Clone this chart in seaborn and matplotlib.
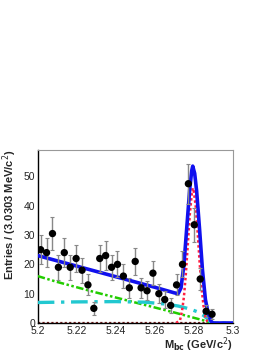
import numpy as np
import matplotlib
matplotlib.use("Agg")
import matplotlib.pyplot as plt
import matplotlib.transforms as mtransforms
import seaborn as sns
from matplotlib.ticker import MultipleLocator

# === data ===
bin_width = 0.0030303
bin_left = 5.2
counts = [25, 24, 30.5, 19, 24, 19, 22, 18, 13, 5, 22, 23, 19, 20, 16,
          12, 21, 12, 11, 17, 10, 8, 6, 13, 20, 47.5, 33.5, 15, 4, 3]

# fit components (x, y)
total_x = [5.200, 5.210, 5.220, 5.230, 5.240, 5.250, 5.260, 5.270, 5.272, 5.2735,
           5.275, 5.2765, 5.278, 5.279, 5.2795, 5.2805, 5.2815, 5.283, 5.2845,
           5.286, 5.2875, 5.289, 5.290, 5.300]
total_y = [23.0, 21.2, 19.4, 17.6, 15.8, 14.0, 12.2, 10.3, 10.0, 12.0,
           20.0, 33.0, 46.0, 52.0, 53.5, 51.0, 45.0, 32.0, 18.0,
           8.0, 3.0, 0.5, 0.0, 0.0]

signal_x = [5.271, 5.273, 5.274, 5.275, 5.276, 5.277, 5.278, 5.279, 5.2795, 5.280,
            5.281, 5.282, 5.283, 5.284, 5.285, 5.286, 5.287, 5.288]
signal_y = [0, 1, 4, 9, 17, 27, 37, 44, 46, 45, 40, 31, 21, 12, 6, 2, 0.5, 0]

cont_x = [5.200, 5.210, 5.220, 5.230, 5.240, 5.250, 5.260, 5.270, 5.280, 5.285, 5.289, 5.300]
cont_y = [16, 14, 12.2, 10.4, 8.7, 7, 5.3, 3.6, 1.8, 0.9, 0, 0]

bb_x = [5.200, 5.220, 5.240, 5.255, 5.265, 5.272, 5.278, 5.282, 5.285, 5.287, 5.2885, 5.289, 5.300]
bb_y = [7.0, 7.2, 7.3, 7.1, 6.5, 5.8, 4.8, 3.8, 2.6, 1.5, 0.5, 0, 0]

peak_x = [5.2, 5.3]
peak_y = [0, 0]

# === plot ===
sns.set_style("white")
plt.rcParams['font.family'] = ['Liberation Sans', 'DejaVu Sans']

fig = plt.figure(figsize=(2.74, 3.55), dpi=100)
ax = fig.add_axes([0.1376, 0.0901, 0.7117, 0.4874])

centers = bin_left + (np.arange(len(counts)) + 0.5) * bin_width
errs = np.sqrt(counts)

sns.lineplot(x=peak_x, y=peak_y, ax=ax, color='#7a1f1f', lw=1.6,
             linestyle=(0, (1, 1)), zorder=2)
sns.lineplot(x=cont_x, y=cont_y, ax=ax, color='#22cc00', lw=1.8,
             linestyle=(0, (3, 1, 1, 1, 1, 1)), zorder=3)
sns.lineplot(x=bb_x, y=bb_y, ax=ax, color='#22c8d0', lw=2.4,
             linestyle=(0, (5, 2, 1, 2)), zorder=3)
sns.lineplot(x=signal_x, y=signal_y, ax=ax, color='#ff2040', lw=1.8,
             linestyle=(0, (1, 1)), zorder=4)
sns.lineplot(x=total_x, y=total_y, ax=ax, color='#1010ee', lw=2.6, zorder=5)

ax.errorbar(centers, counts, yerr=errs, fmt='none', ecolor='#888888',
            elinewidth=1.0, capsize=1.5, capthick=0.8, zorder=6)
sns.scatterplot(x=centers, y=counts, ax=ax, color='black', s=28,
                edgecolor='none', zorder=7)

ax.set_xlim(5.2, 5.3)
ax.set_ylim(0, 59)
ax.xaxis.set_major_locator(MultipleLocator(0.02))
ax.xaxis.set_minor_locator(MultipleLocator(0.004))
ax.yaxis.set_major_locator(MultipleLocator(10))
ax.yaxis.set_minor_locator(MultipleLocator(2))
ax.set_xticks([5.2, 5.22, 5.24, 5.26, 5.28, 5.3])
ax.set_xticklabels(['5.2', '5.22', '5.24', '5.26', '5.28', '5.3'])
ax.tick_params(which='both', direction='in', top=False, right=False,
               labelsize=7.5, color='black')
ax.tick_params(axis='x', pad=2)
ax.tick_params(axis='y', pad=2)
ax.tick_params(which='major', length=4, width=0.8)
ax.tick_params(which='minor', length=2, width=0.6)

# nudge the "0" label up a little so it clears "5.2"
zero_lbl = ax.get_yticklabels()[0]
zero_lbl.set_transform(zero_lbl.get_transform() +
                       mtransforms.ScaledTranslation(0, 2 / 72, fig.dpi_scale_trans))

for side in ['left', 'bottom']:
    ax.spines[side].set_color('black')
    ax.spines[side].set_linewidth(1.0)
for side in ['top', 'right']:
    ax.spines[side].set_color('#999999')
    ax.spines[side].set_linewidth(0.8)

ax.set_ylabel('Entries / (3.0303 MeV/c$^2$)', fontsize=8, fontweight='bold',
              loc='top', labelpad=3)
ax.set_xlabel('M$_{\\mathbf{bc}}$ (GeV/c$^2$)', fontsize=8, fontweight='bold',
              loc='right', labelpad=0)

fig.savefig('out.png', dpi=100)
